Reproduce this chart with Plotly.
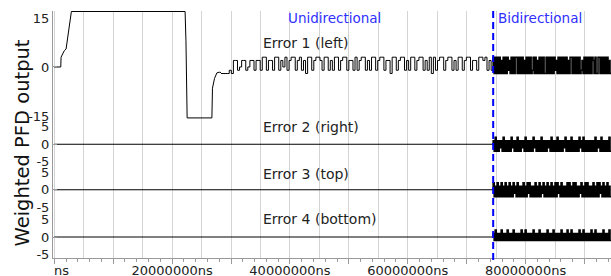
import plotly.graph_objects as go

FONT = "DejaVu Sans"
MNS = 1e6  # time unit in the lists below: millions of ns

# ---------------- data ----------------
# Error 1 start-up transient (time in 1e6 ns, value)
E1_TRANS_T = [0, 1.1, 1.15, 1.45, 1.7, 2.0, 2.25, 2.6, 2.9, 22.2, 22.35, 22.55,
              26.75, 26.85, 27.2, 27.6, 28.0, 28.3]
E1_TRANS_V = [0, 0, 3, 4, 5, 5.5, 9, 13, 17, 17, 8, -15.6,
              -15.6, -6.5, -3.5, -1.8, -1.6, -1.7]

STEADY_START = 28.3   # start of the read-off steady-state samples (1e6 ns)
SWITCH_T = 74.5       # unidirectional -> bidirectional switch (1e6 ns)
END_T = 94.5          # end of record (1e6 ns)
LEVEL_OFFSET = 4      # sample digit d means value d - 4

# Error 1, unidirectional steady state (digit-coded levels)
E1_UNI = ("222232663466" "346636637736" "637736473677" "367362773677"
          "637736377367" "736637367736" "377367736627" "736773637736"
          "773637273677" "367736377367" "736637767363")

# bidirectional part for each error signal (digit-coded levels)
E1_BI = ("7272727262" "7272736272" "7277272727" "2627272723" "7272627272"
         "7227272727" "2736272727" "2727262772" "7272727236" "2727272727"
         "6272277272" "72727262")
E2_BI = ("5262525352" "6252525263" "5252625253" "5262525252" "6352525262"
         "5252535262" "5252625252" "5362525262" "5252526352" "6252525252"
         "5262535262" "52525262")
E3_BI = ("6252625262" "5262526252" "6352625252" "6252636252" "5262526253"
         "6252625262" "5262635262" "5252626252" "6262525362" "5262625252"
         "6252626352" "62526252")
E4_BI = ("5363535363" "5353635353" "6353535363" "5363535353" "6353536353"
         "5353635353" "6353535363" "5353635363" "5353536353" "6353535363"
         "5363535353" "63535363")

ERROR_LABELS = ["Error 1 (left)", "Error 2 (right)", "Error 3 (top)", "Error 4 (bottom)"]
MODE_LABELS = ["Unidirectional", "Bidirectional"]
X_TICK_VALS = [0, 20, 40, 60, 80]
X_TICK_TEXT = ["ns", "20000000ns", "40000000ns", "60000000ns", "80000000ns"]
Y1_TICKS = [-15, 0, 15]
Y_TICKS = [-5, 0, 5]


def decode(s):
    return [int(c) - LEVEL_OFFSET for c in s]


def sample_times(start, end, n):
    step = (end - start) / n
    return [(start + i * step) * MNS for i in range(n)]


# ---------------- figure ----------------
THIN = dict(color="black", width=1)
THIN_HV = dict(color="black", width=1, shape="hv")
DENSE_HV = dict(color="black", width=1.6, shape="hv")
fig = go.Figure()

# Error 1
fig.add_trace(go.Scatter(x=[t * MNS for t in E1_TRANS_T], y=E1_TRANS_V,
                         mode="lines", line=THIN, xaxis="x", yaxis="y"))
uni_v = decode(E1_UNI)
bi_v = decode(E1_BI)
fig.add_trace(go.Scatter(x=sample_times(STEADY_START, SWITCH_T, len(uni_v)) + [SWITCH_T * MNS],
                         y=uni_v + [uni_v[-1]], mode="lines", line=THIN_HV, xaxis="x", yaxis="y"))
fig.add_trace(go.Scatter(x=[SWITCH_T * MNS] + sample_times(SWITCH_T, END_T, len(bi_v)) + [END_T * MNS],
                         y=[uni_v[-1]] + bi_v + [bi_v[-1]], mode="lines", line=DENSE_HV,
                         xaxis="x", yaxis="y"))

# Errors 2-4: zero until the switch, then bidirectional activity
for s, ya in [(E2_BI, "y2"), (E3_BI, "y3"), (E4_BI, "y4")]:
    v = decode(s)
    fig.add_trace(go.Scatter(x=[0, SWITCH_T * MNS], y=[0, 0], mode="lines", line=THIN,
                             xaxis="x", yaxis=ya))
    fig.add_trace(go.Scatter(x=[SWITCH_T * MNS] + sample_times(SWITCH_T, END_T, len(v)) + [END_T * MNS],
                             y=[0] + v + [v[-1]], mode="lines", line=DENSE_HV,
                             xaxis="x", yaxis=ya))

# dummy trace to host the tick-mark overlay axis
fig.add_trace(go.Scatter(x=[None], y=[None], xaxis="x2", yaxis="y4", hoverinfo="skip"))

AXC = "#9a9a9a"
GRIDC = "#d4d4d4"
TICKFONT = dict(family=FONT, size=13, color="#222")
XR = [-0.22 * MNS, END_T * MNS]

grid_vals = [i * 5 * MNS for i in range(19)]
grid_text = []
for gv in grid_vals:
    lab = ""
    for tv, tt in zip(X_TICK_VALS, X_TICK_TEXT):
        if abs(tv * MNS - gv) < 1 and tv != 0:
            lab = tt
    grid_text.append(lab)

yaxis_common = dict(showgrid=False, zeroline=False, showline=True, linecolor=AXC, linewidth=1,
                    ticks="", tickfont=TICKFONT, anchor="x",
                    minor=dict(tickmode="array", tickvals=[0], ticks="inside", ticklen=4, tickcolor=AXC))

H = 247.0
def dom(top_px, bot_px):
    return [(258 - bot_px) / H, (258 - top_px) / H]

fig.update_layout(
    width=611, height=276,
    margin=dict(l=53, r=0, t=11, b=18),
    plot_bgcolor="white", paper_bgcolor="white",
    showlegend=False,
    font=dict(family=FONT, size=13, color="#222"),
    xaxis=dict(domain=[0, 1], anchor="y4", range=XR, tickmode="array", tickvals=grid_vals,
               ticktext=grid_text, showgrid=True, gridcolor=GRIDC, gridwidth=1, ticks="",
               showline=True, linecolor=AXC, linewidth=1, zeroline=False, tickfont=TICKFONT,
               automargin=False),
    xaxis2=dict(overlaying="x", anchor="y4", range=XR, tickmode="array",
                tickvals=[i * 10 * MNS for i in range(10)], ticks="outside", ticklen=5,
                tickcolor=AXC, showticklabels=False, showgrid=False, zeroline=False, showline=False,
                minor=dict(dtick=2 * MNS, tick0=0, ticks="outside", ticklen=3, tickcolor=AXC)),
    yaxis=dict(domain=dom(11, 121.5), range=[-16.7, 17.15], tickmode="array", tickvals=Y1_TICKS,
               ticktext=[str(v) for v in Y1_TICKS], **yaxis_common),
    yaxis2=dict(domain=dom(121.5, 167), range=[-6.5, 6.5], tickmode="array", tickvals=Y_TICKS,
                ticktext=[str(v) for v in Y_TICKS], **yaxis_common),
    yaxis3=dict(domain=dom(167, 212.5), range=[-6.5, 6.5], tickmode="array", tickvals=Y_TICKS,
                ticktext=[str(v) for v in Y_TICKS], **yaxis_common),
    yaxis4=dict(domain=dom(212.5, 258), range=[-6, 7], tickmode="array", tickvals=Y_TICKS,
                ticktext=[str(v) for v in Y_TICKS], **yaxis_common),
)

# mode switch marker
fig.add_shape(type="line", xref="x", yref="paper", x0=SWITCH_T * MNS, x1=SWITCH_T * MNS,
              y0=-0.008, y1=1.0, line=dict(color="#0000ff", width=2, dash="7px,4px"))

def px_x(p):
    return (p - 53) / 558.0

def px_y(p):
    return (258 - p) / H

ann = []
BLUE = "#3030ff"
ann.append(dict(text=MODE_LABELS[0], x=px_x(285.5), y=px_y(18), xanchor="left", yanchor="middle",
                font=dict(family=FONT, size=13.5, color=BLUE)))
ann.append(dict(text=MODE_LABELS[1], x=px_x(495.5), y=px_y(18), xanchor="left", yanchor="middle",
                font=dict(family=FONT, size=13.5, color=BLUE)))
for lab, yp in zip(ERROR_LABELS, [42.5, 127.5, 174, 219]):
    ann.append(dict(text=lab, x=px_x(260.5), y=px_y(yp), xanchor="left", yanchor="middle",
                    font=dict(family=FONT, size=14, color="#222")))
ann.append(dict(text=X_TICK_TEXT[0], x=px_x(52), y=px_y(270), xanchor="left", yanchor="middle",
                font=dict(family=FONT, size=13, color="#222")))
ann.append(dict(text="Weighted PFD output", x=px_x(22.5), y=px_y(143), textangle=-90,
                xanchor="center", yanchor="middle", font=dict(family=FONT, size=19.5, color="#111")))
for a in ann:
    a.update(xref="paper", yref="paper", showarrow=False)
fig.update_layout(annotations=ann)

fig.write_html("out.html", config={"displayModeBar": False},
               post_script="document.body.style.margin='0';document.body.style.overflow='hidden';")
